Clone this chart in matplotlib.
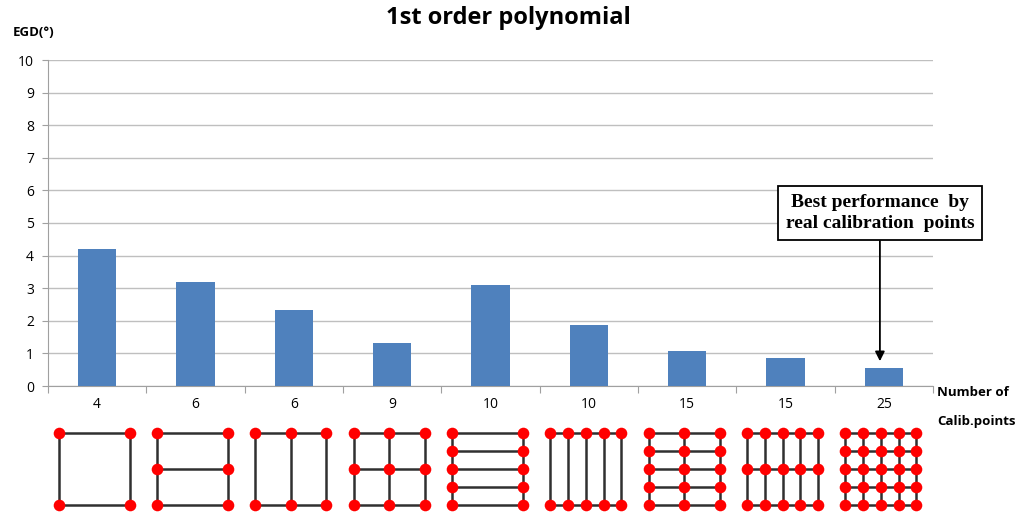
import numpy as np
from matplotlib import pyplot as plt

# values
n_points = ["4", "6", "6", "9", "10", "10", "15", "15", "25"]
egd = [4.19, 3.20, 2.33, 1.33, 3.09, 1.88, 1.07, 0.86, 0.54]
grid_cols = [2, 2, 3, 3, 2, 5, 3, 5, 5]
grid_rows = [2, 3, 2, 3, 5, 2, 5, 3, 5]

plt.rcParams['font.family'] = ['Open Sans', 'DejaVu Sans']

fig = plt.figure(figsize=(10.24, 5.18), dpi=100)
ax = fig.add_axes([48/1024, 1 - 386/518, (933 - 48)/1024, (386 - 60)/518])

x = np.arange(len(egd))
ax.bar(x, egd, width=0.39, color='#4F81BD', zorder=3)
ax.set_xlim(-0.5, len(egd) - 0.5)
ax.set_ylim(0, 10)
ax.set_yticks(range(0, 11))
ax.yaxis.grid(True, color='#BFBFBF', lw=1, zorder=0)
ax.set_xticks(np.arange(-0.5, len(egd)), minor=False)
ax.set_xticklabels([])
ax.set_xticks(x, minor=True)
ax.set_xticklabels(n_points, minor=True, fontsize=10)
ax.tick_params(axis='x', which='major', length=5, color='#A0A0A0', direction='out')
ax.tick_params(axis='x', which='minor', length=0, pad=8)
ax.tick_params(axis='y', length=4, color='#A0A0A0', labelsize=10, pad=6)
for s in ['top', 'right']:
    ax.spines[s].set_visible(False)
for s in ['left', 'bottom']:
    ax.spines[s].set_color('#A0A0A0')

fig.text(508/1024, 1 - 18/518, "1st order polynomial", ha='center', va='center',
         fontsize=17, fontweight='bold')
fig.text(13/1024, 1 - 33/518, "EGD(\u00b0)", ha='left', va='center',
         fontsize=9.5, fontweight='bold')
fig.text(937/1024, 1 - 393/518, "Number of", ha='left', va='center',
         fontsize=9.5, fontweight='bold')
fig.text(937/1024, 1 - 421/518, "Calib.points", ha='left', va='center',
         fontsize=9.5, fontweight='bold')

# annotation for the best case
ax.annotate("Best performance  by\nreal calibration  points",
            xy=(7.96, egd[8] + 0.22), xytext=(7.96, 5.3),
            ha='center', va='center', fontsize=14, fontweight='bold',
            family='Liberation Serif', linespacing=1.35,
            bbox=dict(boxstyle='square,pad=0.4', fc='white', ec='black', lw=1.3),
            arrowprops=dict(arrowstyle='-|>', color='black', lw=1.3,
                            mutation_scale=14, shrinkA=0, shrinkB=0),
            zorder=5)

# calibration point layouts below the chart
ax2 = fig.add_axes([48/1024, 6/518, (933 - 48)/1024, 87/518])
ax2.set_xlim(-0.5, len(egd) - 0.5)
ax2.set_ylim(0, 0.885)
ax2.axis('off')
w, h, y0 = 0.72, 0.73, 0.071
for i, (nc, nr) in enumerate(zip(grid_cols, grid_rows)):
    xs = np.linspace(i - 0.03 - w/2, i - 0.03 + w/2, nc)
    ys = np.linspace(y0, y0 + h, nr)
    for xv in xs:
        ax2.plot([xv, xv], [ys[0], ys[-1]], color='#303030', lw=1.8, zorder=1)
    for yv in ys:
        ax2.plot([xs[0], xs[-1]], [yv, yv], color='#303030', lw=1.8, zorder=1)
    gx, gy = np.meshgrid(xs, ys)
    ax2.scatter(gx.ravel(), gy.ravel(), s=70, color='#FF0000', zorder=2,
                clip_on=False, linewidths=0)

fig.savefig("out.png", dpi=100)
